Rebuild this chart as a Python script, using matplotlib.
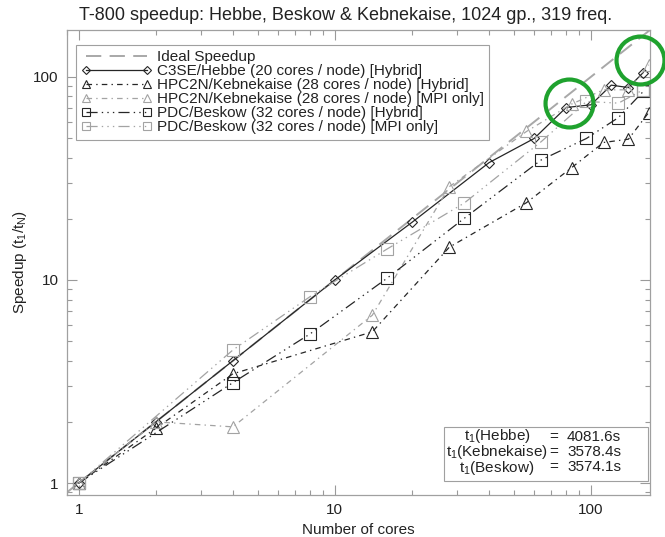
import matplotlib
matplotlib.use("Agg")
import matplotlib.pyplot as plt
from matplotlib.patches import Rectangle
from matplotlib.ticker import FuncFormatter, NullFormatter, LogLocator

plt.rcParams["font.family"] = ["Liberation Sans", "DejaVu Sans"]
plt.rcParams["mathtext.fontset"] = "custom"
plt.rcParams["mathtext.rm"] = "Liberation Sans"
plt.rcParams["mathtext.it"] = "Liberation Sans"
plt.rcParams["lines.scale_dashes"] = False

# speedup t1/tN per machine
hebbe_cores = [1, 2, 4, 10, 20, 40, 60, 80, 100, 120, 140, 160]
hebbe_speedup = [1.0, 2.0, 4.0, 10.0, 19.2, 37.8, 49.7, 70.6, 72.8, 91.0, 88.5, 105.0]

kebne_cores = [1, 2, 4, 14, 28, 56, 84, 112, 140, 168]
kebne_hybrid = [1.0, 1.86, 3.45, 5.55, 14.5, 24.0, 35.7, 47.5, 49.3, 66.7]
kebne_mpi = [1.0, 2.0, 1.89, 6.7, 28.8, 53.8, 73.4, 86.3, 86.3, 114.6]

beskow_cores = [1, 4, 8, 16, 32, 64, 96, 128, 160]
beskow_hybrid = [1.0, 3.12, 5.42, 10.2, 20.1, 39.0, 49.7, 63.0, 84.7]
beskow_mpi = [1.0, 4.52, 8.27, 14.2, 23.9, 48.0, 75.6, 74.2, 86.3]

ideal = [0.5, 400]

labels = [
    "Ideal Speedup",
    "C3SE/Hebbe (20 cores / node) [Hybrid]",
    "HPC2N/Kebnekaise (28 cores / node) [Hybrid]",
    "HPC2N/Kebnekaise (28 cores / node) [MPI only]",
    "PDC/Beskow (32 cores / node) [Hybrid]",
    "PDC/Beskow (32 cores / node) [MPI only]",
]

t1_names = ["Hebbe", "Kebnekaise", "Beskow"]
t1_values = [4081.6, 3578.4, 3574.1]

# points picked out in the discussion
circled = [(82, 74), (155, 121)]

dark = "#262626"
light = "#a3a3a3"
dashdot = (0, (4, 3, 1, 3))
dash3dot = (0, (8, 3, 1, 3, 1, 3, 1, 3))

fig = plt.figure(figsize=(6.65, 5.37), dpi=100)
ax = fig.add_axes([67 / 665, 1 - 495 / 537, 583 / 665, 465 / 537])

ax.plot(ideal, ideal, color="#a8a8a8", lw=1.4, linestyle=(0, (11, 6)), label=labels[0])
ax.plot(hebbe_cores, hebbe_speedup, color=dark, lw=0.9, marker="D", ms=5.4,
        mfc="none", mec=dark, mew=0.8, label=labels[1])
ax.plot(kebne_cores, kebne_hybrid, color=dark, lw=0.9, linestyle=dashdot, marker="^", ms=8.6,
        mfc="none", mec=dark, mew=0.8, label=labels[2])
ax.plot(kebne_cores, kebne_mpi, color=light, lw=0.9, linestyle=dashdot, marker="^", ms=8.6,
        mfc="none", mec=light, mew=0.8, label=labels[3])
ax.plot(beskow_cores, beskow_hybrid, color=dark, lw=0.9, linestyle=dash3dot, marker="s", ms=9.2,
        mfc="none", mec=dark, mew=0.8, label=labels[4])
ax.plot(beskow_cores, beskow_mpi, color=light, lw=0.9, linestyle=dash3dot, marker="s", ms=9.2,
        mfc="none", mec=light, mew=0.8, label=labels[5])

for cx, cy in circled:
    ax.plot([cx], [cy], marker="o", ms=34.5, mfc="none", mec="#1fa22e", mew=3.0,
            clip_on=False, zorder=10)

ax.set_xscale("log")
ax.set_yscale("log")
ax.set_xlim(0.9, 170)
ax.set_ylim(0.873, 170)

fmt = FuncFormatter(lambda v, p: f"{v:g}")
for axis in (ax.xaxis, ax.yaxis):
    axis.set_major_locator(LogLocator(base=10))
    axis.set_minor_locator(LogLocator(base=10, subs=range(2, 10)))
    axis.set_major_formatter(fmt)
    axis.set_minor_formatter(NullFormatter())

ax.tick_params(which="both", direction="in", top=True, right=True, color="#9a9a9a",
               labelsize=11, labelcolor="#222222")
ax.tick_params(which="major", length=7, width=0.8, pad=6)
ax.tick_params(which="minor", length=3.5, width=0.8)
for sp in ax.spines.values():
    sp.set_color("#a0a0a0")
    sp.set_linewidth(0.9)

ax.set_xlabel("Number of cores", fontsize=11, color="#222222", labelpad=4)
ax.set_ylabel(r"Speedup (t$_1$/t$_\mathrm{N}$)", fontsize=11, color="#222222", labelpad=3)
fig.text(346 / 665, 1 - 15 / 537, "T-800 speedup: Hebbe, Beskow & Kebnekaise, 1024 gp., 319 freq.",
         ha="center", va="center", fontsize=13, color="#222222")

leg = ax.legend(loc="upper left", bbox_to_anchor=(9 / 583, 1 - 15 / 465), borderaxespad=0,
                fontsize=11.0, numpoints=2, handlelength=4.6, handletextpad=0.35,
                labelspacing=0.0, markerscale=0.7, fancybox=False, framealpha=1,
                edgecolor="#a0a0a0", borderpad=0.35)
leg.get_frame().set_linewidth(0.8)
for t in leg.get_texts():
    t.set_color("#222222")

# box with single-core reference times
ax.add_patch(Rectangle(((444 - 67) / 583, (495 - 481) / 465), 204 / 583, 54 / 465,
                       transform=ax.transAxes, fill=True, facecolor="white",
                       edgecolor="#a0a0a0", lw=0.8, zorder=5))
ymid = 1 - (452 - 30) / 465
col_kw = dict(transform=ax.transAxes, va="center", fontsize=11, color="#222222", zorder=6)
ax.text((497 - 67) / 583, ymid, "\n".join(f"t$_1$({n})" for n in t1_names),
        ha="center", multialignment="center", linespacing=0.85, **col_kw)
ax.text((554 - 67) / 583, ymid, "\n".join("=" for _ in t1_names), ha="center",
        linespacing=1.1, **col_kw)
ax.text((567 - 67) / 583, ymid, "\n".join(f"{v:.1f}s" for v in t1_values),
        ha="left", linespacing=1.1, **col_kw)

fig.savefig("out.png", dpi=100)
